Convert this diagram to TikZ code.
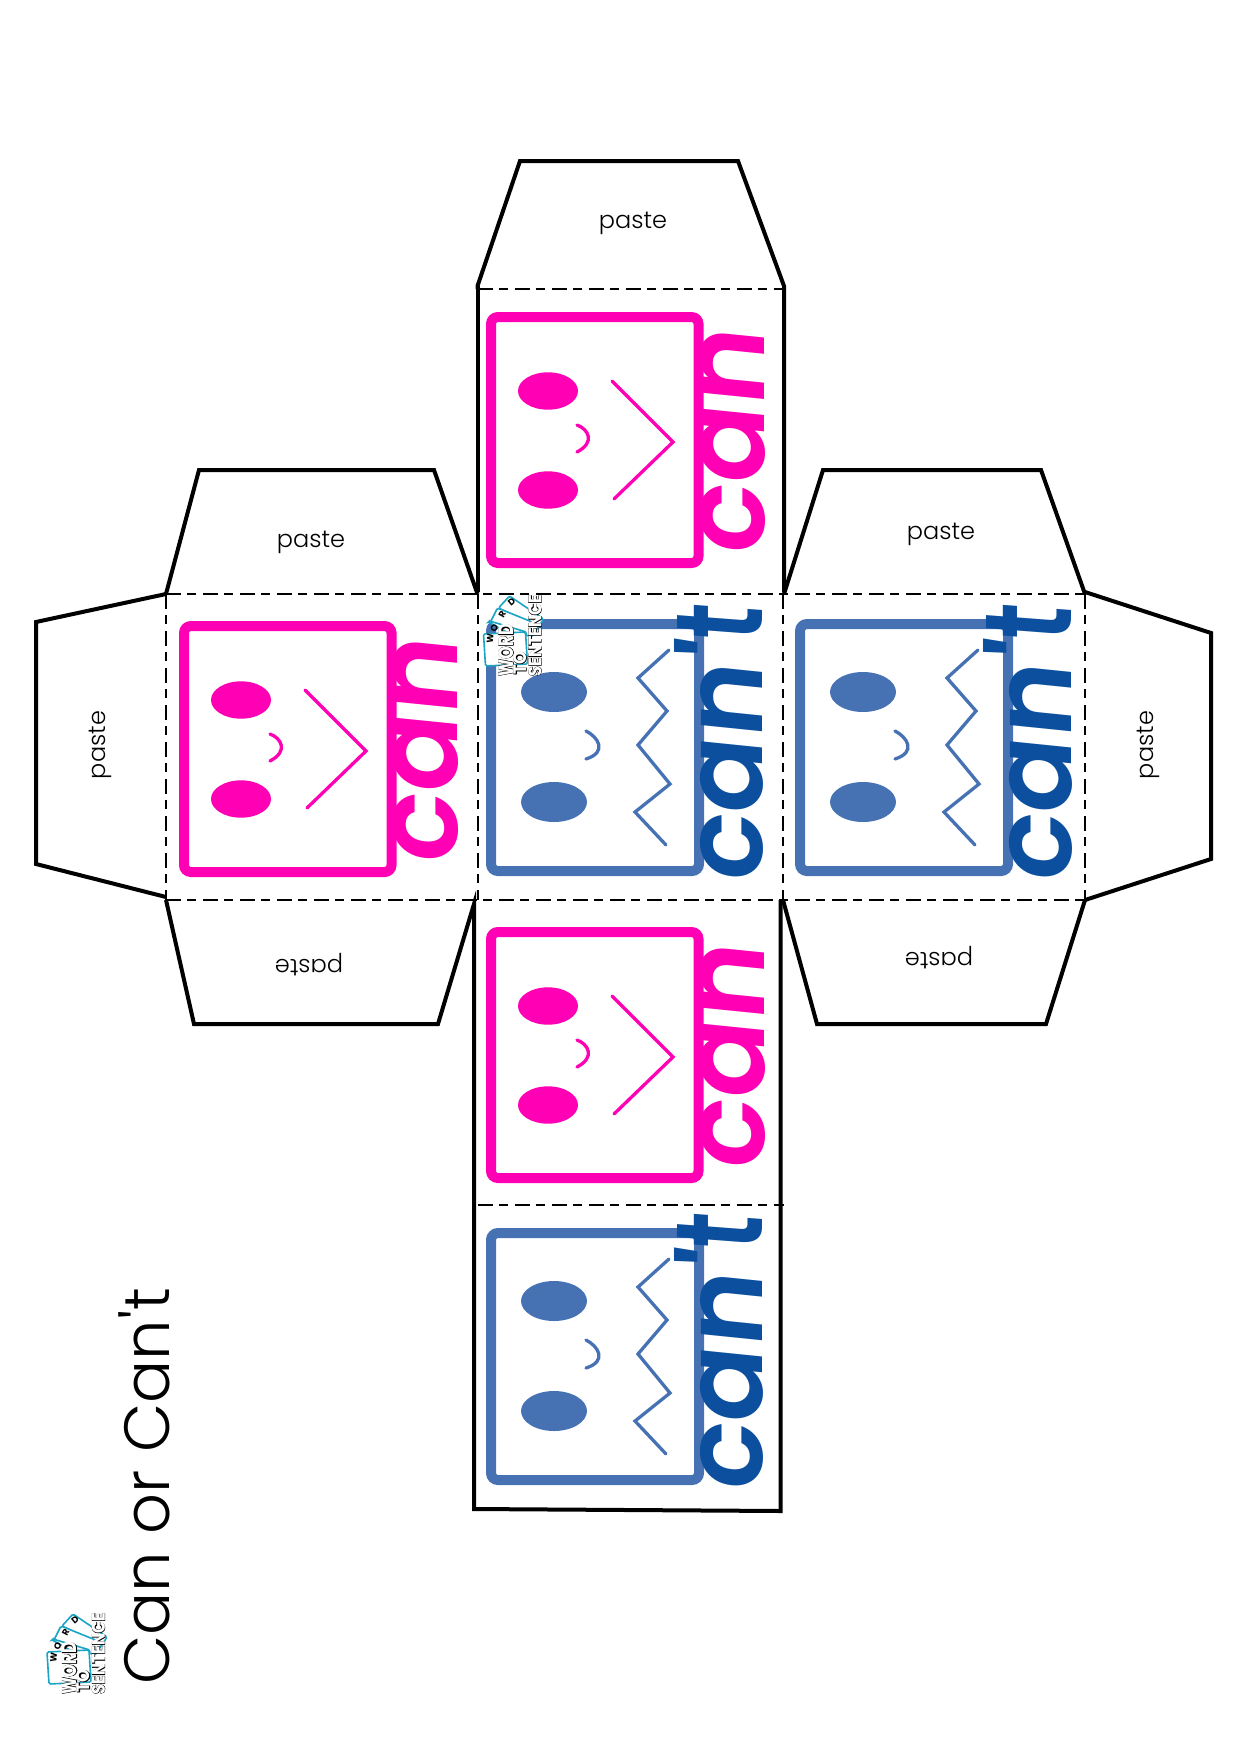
\documentclass[tikz,border=0pt]{standalone}
\usepackage{fontspec}
\usepackage{graphicx}
\setmainfont{Poppins}
\newfontfamily\lightf{Poppins Light}
\newfontfamily\canf[FakeSlant=0.1]{Poppins SemiBold}
\newfontfamily\logof[FakeBold=3]{Poppins ExtraBold}
\newfontfamily\logoin{Poppins}
\definecolor{pinkc}{HTML}{FF00B4}
\definecolor{boxblue}{HTML}{4672B4}
\definecolor{textblue}{HTML}{0B4F9E}
\definecolor{teal}{HTML}{1AA5C4}
\tikzset{
 outline/.style={draw=black,line width=4pt,line join=miter},
 fold/.style={draw=black,line width=2pt,dash pattern=on 15pt off 6pt on 9pt off 7pt},
 facebox/.style={line width=10pt,rounded corners=7pt},
 wordart/.style={anchor=base west,inner sep=0pt,rotate=90},
 pastelabel/.style={inner sep=0pt,font=\lightf\fontsize{24}{24}\selectfont},
 card/.style={draw=teal,fill=white,line width=1.6pt,rounded corners=1.5pt},
 cardletter/.style={inner sep=0pt,font=\bfseries\fontsize{9}{9}\selectfont},
}
\newcommand{\pinkface}[3]{\begin{scope}[shift={(#2,#3)}]
 \draw[facebox,pinkc] (491,317) rectangle (698.5,563);
 \fill[pinkc] (548,391) ellipse (30 and 18.7);
 \fill[pinkc] (548,490) ellipse (30 and 18.7);
 \draw[pinkc,line width=3.3pt,line cap=round] (577,425) .. controls (588,429) and (596,442) .. (577,452);
 \draw[pinkc,line width=3.3pt,line cap=round,line join=miter] (612,381) -- (673,442) -- (614,499);
 \node[wordart,text=pinkc] (#1) at (764,557) {\resizebox{226pt}{65pt}{\canf can}};
\end{scope}}
\newcommand{\blueface}[3]{\begin{scope}[shift={(#2,#3)}]
 \draw[facebox,boxblue] (491,624) rectangle (699,871);
 \fill[boxblue] (554,692) ellipse (33 and 20);
 \fill[boxblue] (554,802) ellipse (33 and 20);
 \draw[boxblue,line width=3.3pt,line cap=round] (586,731) .. controls (598,737) and (608,752) .. (586,759);
 \draw[boxblue,line width=3.3pt,line cap=round,line join=miter] (669,650) -- (638,678) -- (667,711) -- (638,745) -- (670,784) -- (635,812) -- (666,845);
 \node[wordart,text=textblue] (#1) at (762,884) {\resizebox{240pt}{88pt}{\canf can'}};
 \node[wordart,text=textblue] (#1t) at (762,644) {\resizebox{36pt}{85pt}{\canf t}};
\end{scope}}
\newcommand{\wtslogo}[3]{\begin{scope}[shift={(#2,#3)}]
 \draw[card] (62,1626) -- (73,1614) -- (107,1637) -- (102,1645) -- cycle;
 \draw[card] (54,1640) -- (61,1626) -- (103,1643) -- (95,1655) -- cycle;
 \draw[card] (52,1640) -- (53,1639) -- (90,1650) -- (88,1660) -- cycle;
 \draw[card] (47,1652) -- (89,1650) -- (91,1682) -- (49,1684) -- cycle;
 \node[cardletter,rotate=85] (#1w) at (53.7,1657) {W};
 \node[cardletter,rotate=72] (#1o) at (57.7,1645.7) {O};
 \node[cardletter,rotate=62] (#1r) at (65.7,1632.7) {R};
 \node[cardletter,rotate=40] (#1d) at (75,1620) {D};
 \foreach \tx/\ty/\tw/\th/\ttext in {69.5/1668/52/15/WORD,83.5/1681/23/13/TO,98.5/1653.5/81/13/SENTENCE}{
   \node[inner sep=0pt,rotate=90] at (\tx,\ty) {\resizebox{\tw pt}{\th pt}{\logof\ttext}};
   \node[inner sep=0pt,rotate=90,text=white] at (\tx,\ty) {\resizebox{\tw pt}{\th pt}{\logoin\bfseries\ttext}};
 }
\end{scope}}
\begin{document}
\begin{tikzpicture}[x=1pt,y=-1pt]
\useasboundingbox (0,0) rectangle (1240,1750);
% pieces of the net
\draw[outline] (477.5,289) -- (477.5,286) -- (520,161) -- (738,161) -- (784,286) -- (784,592);
\draw[outline] (477.5,286) -- (477.5,592);
\draw[outline] (166,594) -- (199,470) -- (434,470) -- (477.5,594);
\draw[outline] (166,594) -- (36,622) -- (36,864) -- (166,897);
\draw[outline] (166,900) -- (194,1024) -- (438,1024) -- (474,904) -- (474,1509) -- (780.5,1511) -- (780.5,900);
\draw[outline] (784,594) -- (823,470) -- (1041,470) -- (1085,594);
\draw[outline] (1085,592) -- (1211,633) -- (1211,859) -- (1085,900);
\draw[outline] (783,900) -- (817,1024) -- (1046,1024) -- (1085,900);
% fold lines
\draw[fold] (477.5,289) -- (784,289);
\draw[fold] (166,594) -- (1085,594);
\draw[fold] (166,900) -- (1085,900);
\draw[fold] (477.5,1205) -- (784,1205);
\draw[fold] (166,594) -- (166,900);
\draw[fold] (477.5,594) -- (477.5,900);
\draw[fold] (783,594) -- (783,900);
\draw[fold] (1085,594) -- (1085,900);
% paste labels
\node[pastelabel] (p1) at (633,223) {paste};
\node[pastelabel] (p2) at (311,542.5) {paste};
\node[pastelabel] (p3) at (941,534.5) {paste};
\node[pastelabel,rotate=90] (p4) at (100,745) {paste};
\node[pastelabel,rotate=90] (p5) at (1148,745) {paste};
\node[pastelabel,rotate=180] (p6) at (309,965) {paste};
\node[pastelabel,rotate=180] (p7) at (939,958) {paste};
% faces
\pinkface{c1}{0}{0}
\pinkface{c2}{-307}{309}
\pinkface{c3}{0}{615}
\blueface{b1}{0}{0}
\blueface{b2}{309}{0}
\blueface{b3}{0}{609}
% logos
\wtslogo{la}{0}{0}
\wtslogo{lb}{436.5}{-1018}
% title
\node[wordart] (title) at (169,1685) {\resizebox{397pt}{!}{\lightf Can or Can't}};
\end{tikzpicture}
\end{document}
